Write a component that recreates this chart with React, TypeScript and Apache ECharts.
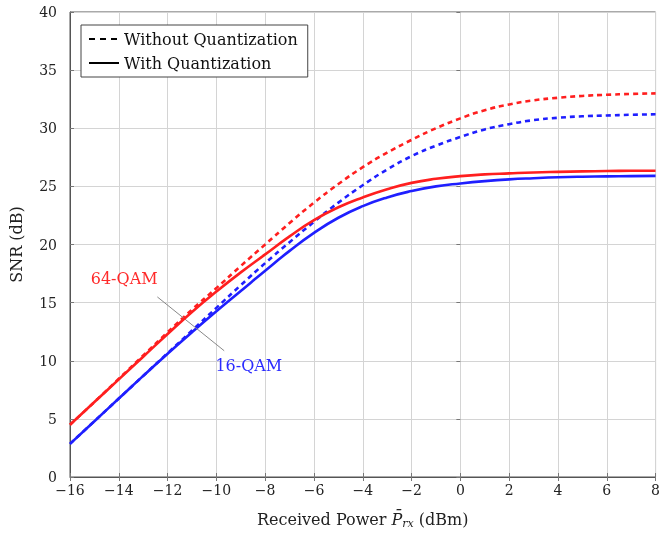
import React, { useEffect, useRef } from "react";
import * as echarts from "echarts";

const powerDbm = [-16, -15, -14, -13, -12, -11, -10, -9, -8, -7, -6, -5, -4, -3, -2, -1, 0, 1, 2, 3, 4, 5, 6, 7, 8];

const qam64WithQuant = [4.5, 6.45, 8.4, 10.35, 12.3, 14.2, 15.95, 17.6, 19.15, 20.7, 22.1, 23.2, 24.05, 24.75, 25.3, 25.65, 25.88, 26.03, 26.12, 26.2, 26.25, 26.29, 26.32, 26.34, 26.35];
const qam64WithoutQuant = [4.5, 6.45, 8.45, 10.45, 12.45, 14.4, 16.25, 18.15, 20.0, 21.85, 23.6, 25.2, 26.65, 27.9, 29.0, 30.0, 30.85, 31.55, 32.05, 32.4, 32.62, 32.78, 32.88, 32.95, 33.0];
const qam16WithQuant = [2.85, 4.8, 6.75, 8.7, 10.6, 12.45, 14.25, 16.0, 17.75, 19.45, 21.0, 22.3, 23.3, 24.05, 24.6, 25.0, 25.25, 25.45, 25.6, 25.7, 25.78, 25.83, 25.86, 25.88, 25.9];
const qam16WithoutQuant = [2.85, 4.8, 6.75, 8.7, 10.65, 12.6, 14.55, 16.5, 18.4, 20.2, 21.95, 23.6, 25.1, 26.45, 27.6, 28.5, 29.25, 29.9, 30.35, 30.7, 30.9, 31.03, 31.1, 31.16, 31.2];

const legendNames = ["Without Quantization", "With Quantization"];
const label64 = { text: "64-QAM", coord: [-13.78, 17.1] };
const label16 = { text: "16-QAM", coord: [-8.67, 9.57] };
const pointerLine = [[-12.42, 15.49], [-9.68, 10.86]];

const FONT = "DejaVu Serif";

function pairs(ys: number[]) {
  return powerDbm.map((x, i) => [x, ys[i]]);
}

export default function App() {
  const ref = useRef<HTMLDivElement>(null);
  useEffect(() => {
    if (!ref.current) return;
    const chart = echarts.init(ref.current, undefined, { renderer: "svg" });
    const lw = 2.6;
    const mkLine = (name: string, data: number[], color: string, dashed: boolean, z: number) => ({
      name,
      type: "line",
      data: pairs(data),
      smooth: 0.5,
      symbol: "none",
      z,
      lineStyle: { color, width: lw, type: dashed ? [5, 4] : "solid" },
      itemStyle: { color },
      legendHoverLink: false,
    });
    const tickOnly = {
      axisLine: { show: false },
      axisTick: { show: true, inside: true, length: 4, lineStyle: { color: "#777" } },
      axisLabel: { show: false },
      splitLine: { show: false },
    };
    chart.setOption({
      animation: false,
      textStyle: { fontFamily: FONT },
      grid: { left: 63, right: 5, top: 12, bottom: 57, show: true, borderColor: "#555", borderWidth: 1, containLabel: false },
      legend: {
        left: 81,
        top: 25,
        orient: "vertical",
        data: legendNames,
        itemWidth: 30,
        itemHeight: 14,
        itemGap: 8,
        padding: [6, 10, 6, 7],
        borderColor: "#444",
        borderWidth: 1,
        backgroundColor: "#fff",
        itemStyle: { opacity: 0 },
        textStyle: { fontFamily: FONT, fontSize: 16, color: "#111" },
      },
      xAxis: [
        {
          type: "value",
          min: -16,
          max: 8,
          interval: 2,
          name: "{n|Received Power }{it|P̄}{sub|rx}{n| (dBm)}",
          nameLocation: "middle",
          nameGap: 33,
          nameTextStyle: {
            rich: {
              n: { fontFamily: FONT, fontSize: 16, color: "#222" },
              it: { fontFamily: FONT, fontSize: 16, fontStyle: "italic", color: "#222" },
              sub: { fontFamily: FONT, fontSize: 11, fontStyle: "italic", color: "#222", padding: [8, 0, 0, 0] },
            },
          },
          axisLine: { show: true, onZero: false, lineStyle: { color: "#555" } },
          axisTick: { show: true, inside: true, length: 4, lineStyle: { color: "#777" } },
          axisLabel: {
            fontFamily: FONT,
            fontSize: 14,
            color: "#222",
            margin: 6,
            formatter: (v: number) => String(v).replace("-", "\u2212"),
          },
          splitLine: { show: true, lineStyle: { color: "#d4d4d4", width: 1 } },
        },
        { type: "value", min: -16, max: 8, interval: 2, position: "top", ...tickOnly },
      ],
      yAxis: [
        {
          type: "value",
          min: 0,
          max: 40,
          interval: 5,
          name: "SNR (dB)",
          nameLocation: "middle",
          nameGap: 46,
          nameTextStyle: { fontFamily: FONT, fontSize: 16, color: "#222" },
          axisLine: { show: true, onZero: false, lineStyle: { color: "#555" } },
          axisTick: { show: true, inside: true, length: 4, lineStyle: { color: "#777" } },
          axisLabel: { fontFamily: FONT, fontSize: 14, color: "#222", margin: 13 },
          splitLine: { show: true, lineStyle: { color: "#d4d4d4", width: 1 } },
        },
        { type: "value", min: 0, max: 40, interval: 5, position: "right", ...tickOnly },
      ],
      series: [
        { name: legendNames[0], type: "line", data: [], symbol: "none", itemStyle: { color: "#000" }, lineStyle: { color: "#000", width: 2.6, type: [6, 5] } },
        { name: legendNames[1], type: "line", data: [], symbol: "none", itemStyle: { color: "#000" }, lineStyle: { color: "#000", width: 2.6 } },
        mkLine("64-QAM without", qam64WithoutQuant, "#ff1f1f", true, 3),
        mkLine("16-QAM without", qam16WithoutQuant, "#1f1fff", true, 3),
        {
          ...mkLine("16-QAM with", qam16WithQuant, "#1f1fff", false, 4),
          markPoint: {
            symbol: "circle",
            symbolSize: 0,
            silent: true,
            data: [
              { coord: label64.coord, label: { show: true, formatter: label64.text, color: "#ff2a2a", fontSize: 16, fontFamily: FONT } },
              { coord: label16.coord, label: { show: true, formatter: label16.text, color: "#2a2aff", fontSize: 16, fontFamily: FONT } },
            ],
          },
          markLine: {
            symbol: "none",
            silent: true,
            label: { show: false },
            lineStyle: { color: "#888", width: 1, type: "solid" },
            data: [[{ coord: pointerLine[0] }, { coord: pointerLine[1] }]],
          },
        },
        mkLine("64-QAM with", qam64WithQuant, "#ff1f1f", false, 5),
      ],
    });
    return () => chart.dispose();
  }, []);
  return <div ref={ref} style={{ position: "fixed", left: 0, top: 0, width: 663, height: 534 }} />;
}
